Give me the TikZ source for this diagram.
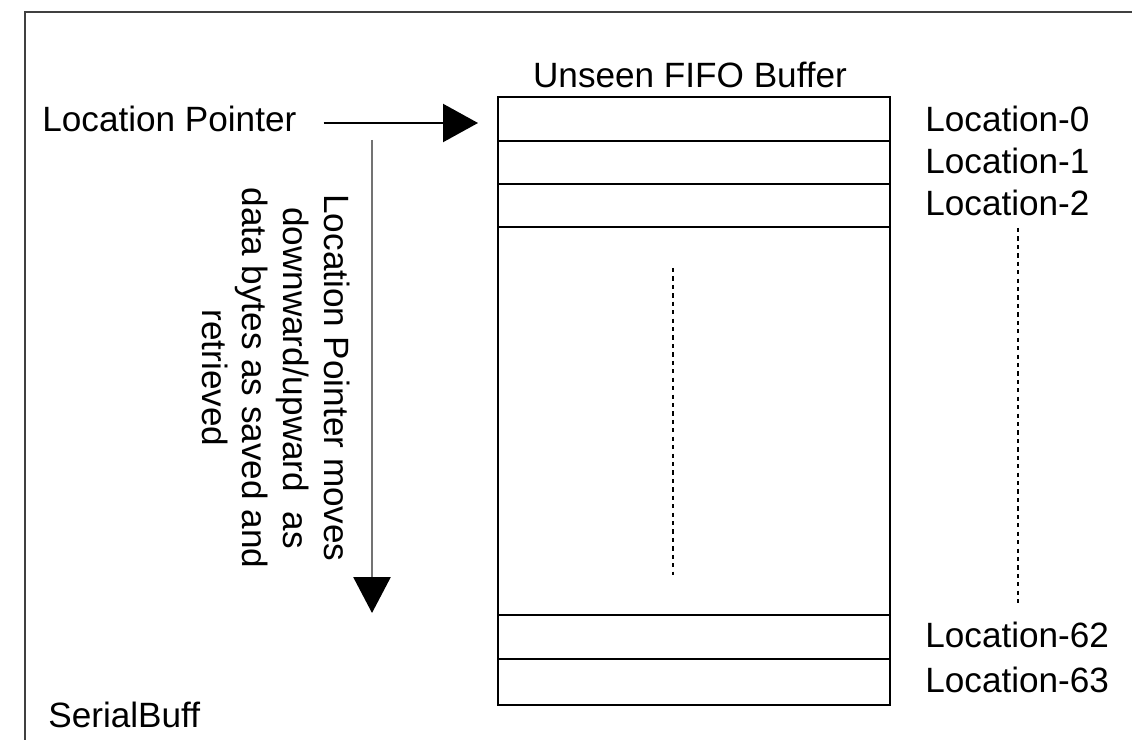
\documentclass[tikz,border=0pt]{standalone}
\usepackage{fontspec}
\setmainfont{Liberation Sans}
\usetikzlibrary{arrows.meta,positioning}

\tikzset{
  cell/.style={draw,line width=1.3pt,minimum width=7.84cm,inner sep=0pt,outer sep=0pt},
  lbl/.style={inner sep=0pt,font=\fontsize{20}{23.3}\selectfont},
  dots/.style={line width=1.6pt,dash pattern=on 2.4pt off 2.4pt},
}

\begin{document}
\begin{tikzpicture}
\useasboundingbox (0,0) rectangle (22.64,14.8);
% outer frame (cut off at right and bottom)
\draw[line width=1.7pt,black!75] (22.64,14.56) -- (0.5,14.56) -- (0.5,0);
% buffer cells
\node[cell,minimum height=0.88cm] (c0) at (13.88,12.42) {};
\node[cell,minimum height=0.86cm,below=0pt of c0] (c1) {};
\node[cell,minimum height=0.86cm,below=0pt of c1] (c2) {};
\node[cell,minimum height=7.76cm,below=0pt of c2] (cmid) {};
\node[cell,minimum height=0.88cm,below=0pt of cmid] (c62) {};
\node[cell,minimum height=0.92cm,below=0pt of c62] (c63) {};
\node[lbl] (title) at (13.8,13.3) {Unseen FIFO Buffer};
% location labels
\node[lbl,right=0.7cm of c0] (l0) {Location-0};
\node[lbl,right=0.7cm of c1,yshift=0.03cm] (l1) {Location-1};
\node[lbl,right=0.7cm of c2,yshift=0.05cm] (l2) {Location-2};
\node[lbl,right=0.7cm of c62,yshift=0.04cm] (l62) {Location-62};
\node[lbl,right=0.7cm of c63,yshift=0.05cm] (l63) {Location-63};
\coordinate (dtop) at (20.36,10.24);
\coordinate (dbot) at (20.36,2.66);
\draw[dots] (dtop) -- (dbot);
\coordinate (mtop) at (13.46,9.44);
\coordinate (mbot) at (13.46,3.3);
\draw[dots] (mtop) -- (mbot);
% pointer
\node[lbl,anchor=west] (ptr) at (0.84,12.42) {Location Pointer};
\draw[line width=1.3pt,-{Triangle[length=0.7cm,width=0.76cm]}] ([xshift=0.54cm,yshift=-0.08cm]ptr.east) -- ([xshift=-0.4cm,yshift=-0.08cm]c0.west);
\coordinate (mvtop) at (7.44,12.0);
\coordinate (mvbot) at (7.44,2.54);
\draw[line width=1.6pt,black!55,-{Triangle[length=0.72cm,width=0.74cm,color=black]}] (mvtop) -- (mvbot);
\node[lbl,rotate=-90,align=center] (moves) at (5.52,7.24)
  {Location Pointer moves\\downward/upward\ \ as\\data bytes as saved and\\retrieved};
\node[lbl,anchor=west] (name) at (0.96,0.5) {SerialBuff};
\end{tikzpicture}
\end{document}
